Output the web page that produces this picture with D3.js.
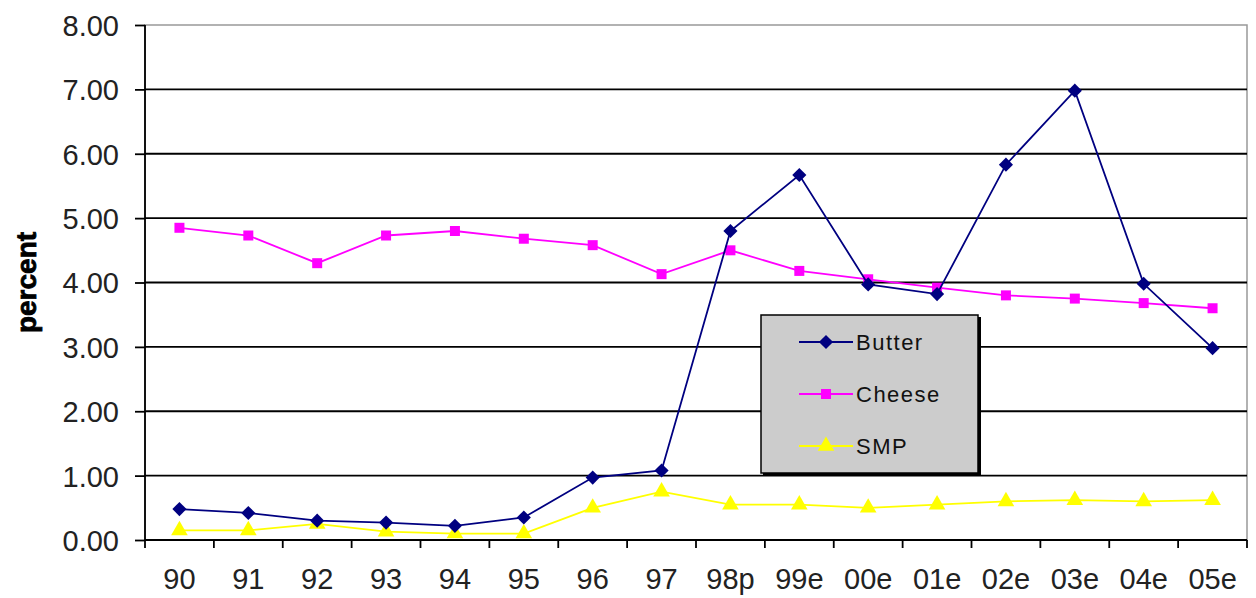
<!DOCTYPE html>
<html lang="en">
<head>
<meta charset="UTF-8" />
<title>Butter, Cheese, SMP percent</title>
<script src="https://d3js.org/d3.v7.min.js"></script>
<style>
  body { margin: 0; background: #fff; overflow: hidden; }
  svg { display: block; font-family: "Liberation Sans", Arial, sans-serif; }
  .tick text { fill: #222; font-size: 29px; }
</style>
</head>
<body>
<svg width="1256" height="598"></svg>
<script>
  const width = 1256, height = 598;

  const years = ["90", "91", "92", "93", "94", "95", "96", "97", "98p", "99e", "00e", "01e", "02e", "03e", "04e", "05e"];
  const butter = [0.48, 0.42, 0.30, 0.27, 0.22, 0.35, 0.97, 1.08, 4.80, 5.67, 3.97, 3.82, 5.83, 6.98, 3.98, 2.98];
  const cheese = [4.85, 4.73, 4.30, 4.73, 4.80, 4.68, 4.58, 4.13, 4.50, 4.18, 4.05, 3.92, 3.80, 3.75, 3.68, 3.60];
  const smp = [0.15, 0.15, 0.25, 0.13, 0.10, 0.10, 0.50, 0.75, 0.55, 0.55, 0.50, 0.55, 0.60, 0.62, 0.60, 0.62];
  const yTicks = [0, 1, 2, 3, 4, 5, 6, 7, 8];

  // square rotated 45 degrees (Excel-style diamond)
  const squareDiamond = {
    draw(context, size) {
      const r = Math.sqrt(size / 2);
      context.moveTo(0, -r);
      context.lineTo(r, 0);
      context.lineTo(0, r);
      context.lineTo(-r, 0);
      context.closePath();
    }
  };

  const series = [
    { name: "Butter", values: butter, color: "#000080", symbol: squareDiamond, size: 100 },
    { name: "Cheese", values: cheese, color: "#ff00ff", symbol: d3.symbolSquare, size: 100 },
    { name: "SMP", values: smp, color: "#ffff00", symbol: d3.symbolTriangle, size: 120 }
  ];

  const margin = { top: 25, right: 9, bottom: 58, left: 145 };
  const svg = d3.select("svg");

  const x = d3.scaleBand().domain(years).range([margin.left, width - margin.right]);
  const y = d3.scaleLinear().domain([0, 8]).range([height - margin.bottom, margin.top]);

  // plot border (top/right grey)
  svg.append("rect")
    .attr("x", margin.left).attr("y", margin.top)
    .attr("width", width - margin.right - margin.left)
    .attr("height", y(0) - margin.top)
    .attr("fill", "#fff").attr("stroke", "#999").attr("stroke-width", 1.5);

  // gridlines
  svg.append("g").selectAll("line")
    .data(yTicks.slice(1, -1))
    .join("line")
    .attr("x1", margin.left).attr("x2", width - margin.right)
    .attr("y1", d => y(d)).attr("y2", d => y(d))
    .attr("stroke", "#000").attr("stroke-width", 1.8);

  // y axis
  const yAxis = svg.append("g")
    .attr("transform", `translate(${margin.left},0)`)
    .call(d3.axisLeft(y).tickValues(yTicks).tickFormat(d3.format(".2f")).tickSize(10).tickPadding(16));
  yAxis.selectAll("line, path").attr("stroke", "#000").attr("stroke-width", 1.8);
  yAxis.select(".domain").attr("d", `M0,${y(0)}V${margin.top}`);
  yAxis.selectAll("text").attr("dy", "0.36em");

  // x axis with ticks at category boundaries
  const xAxis = svg.append("g")
    .attr("transform", `translate(0,${y(0)})`)
    .call(d3.axisBottom(x).tickSize(0).tickPadding(28));
  xAxis.select(".domain").attr("stroke", "#000").attr("stroke-width", 1.8)
    .attr("d", `M${margin.left},0H${width - margin.right}`);
  xAxis.selectAll("text").attr("dy", "0.71em");
  const bounds = years.map(d => x(d)).concat([width - margin.right]);
  xAxis.selectAll(".bound")
    .data(bounds)
    .join("line")
    .attr("class", "bound")
    .attr("x1", d => d).attr("x2", d => d)
    .attr("y1", 0).attr("y2", 8)
    .attr("stroke", "#000").attr("stroke-width", 1.8);

  // y label
  svg.append("text")
    .attr("transform", `translate(36,${(margin.top + y(0)) / 2}) rotate(-90)`)
    .attr("text-anchor", "middle")
    .attr("font-weight", "bold")
    .attr("font-size", 28)
    .attr("stroke", "#000").attr("stroke-width", 0.8)
    .attr("fill", "#000")
    .text("percent");

  const cx = d => x(d) + x.bandwidth() / 2;
  const line = d3.line().x((d, i) => cx(years[i])).y(d => y(d));

  // draw SMP first, butter last
  series.slice().reverse().forEach(s => {
    const g = svg.append("g");
    g.append("path")
      .datum(s.values)
      .attr("fill", "none")
      .attr("stroke", s.color)
      .attr("stroke-width", 1.8)
      .attr("d", line);
    g.selectAll("path.mark")
      .data(s.values)
      .join("path")
      .attr("class", "mark")
      .attr("transform", (d, i) => `translate(${cx(years[i])},${y(d)})`)
      .attr("d", d3.symbol(s.symbol, s.size))
      .attr("fill", s.color);
  });

  // legend
  const lg = svg.append("g").attr("transform", "translate(761,315)");
  lg.append("rect").attr("x", 2).attr("y", 2).attr("width", 218).attr("height", 159).attr("fill", "#000");
  lg.append("rect").attr("width", 217).attr("height", 158)
    .attr("fill", "#cccccc").attr("stroke", "#000").attr("stroke-width", 1.5);
  series.forEach((s, i) => {
    const ry = 27 + i * 52;
    lg.append("line").attr("x1", 38).attr("x2", 92).attr("y1", ry).attr("y2", ry)
      .attr("stroke", s.color).attr("stroke-width", 1.8);
    lg.append("path")
      .attr("transform", `translate(65,${ry})`)
      .attr("d", d3.symbol(s.symbol, s.size))
      .attr("fill", s.color);
    lg.append("text")
      .attr("x", 95).attr("y", ry).attr("dy", "0.36em")
      .attr("font-size", 22).attr("letter-spacing", 1.5).attr("fill", "#111")
      .text(s.name);
  });
</script>
</body>
</html>
